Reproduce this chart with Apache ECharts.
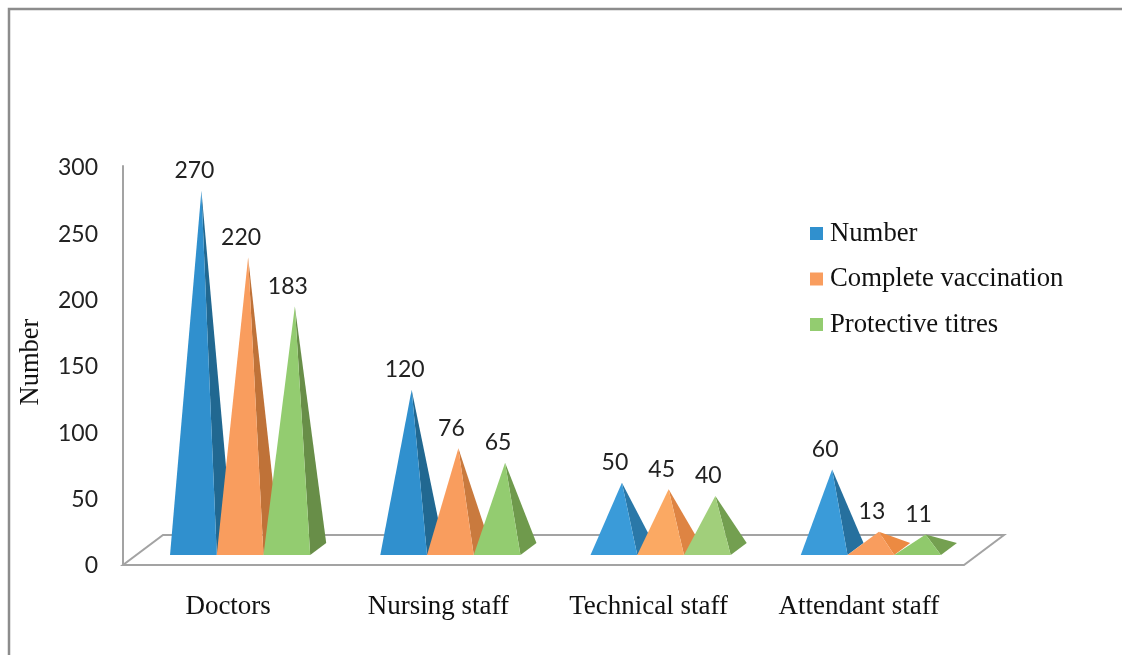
<!DOCTYPE html>
<html lang="en">
<head>
    <meta charset="UTF-8">
    <title>Number, complete vaccination and protective titres</title>
    <script src="https://cdn.jsdelivr.net/npm/echarts@6/dist/echarts.min.js"></script>
    <style>
        html, body { margin: 0; padding: 0; background: #fff; }
        #chart { width: 1122px; height: 655px; }
    </style>
</head>
<body>
    <div id="chart"></div>
    <script>
        var categories = ['Doctors', 'Nursing staff', 'Technical staff', 'Attendant staff'];
        var number = [270, 120, 50, 60];
        var completeVaccination = [220, 76, 45, 13];
        var protectiveTitres = [183, 65, 40, 11];

        var serifFont = '"Liberation Serif", serif';
        var labelFont = 'Lato, sans-serif';

        // the shaded faces get a bit lighter on the smaller groups, per category
        var blueFront = ['#3090CE', '#3090CE', '#3A9BD9', '#3A9BD9'];
        var blueSide = ['#216891', '#216891', '#2A78A8', '#26709E'];
        var orangeFront = ['#F99D5E', '#F99D5E', '#FBA963', '#F99D5E'];
        var orangeSide = ['#BF7238', '#C97A3E', '#DE8443', '#EC8A42'];
        var greenFront = ['#93CC70', '#93CC70', '#A1CF7B', '#90C96C'];
        var greenSide = ['#688E48', '#6F9A4C', '#739F50', '#74A050'];

        // 3d look of the old office chart: floor depth in pixels
        var depthX = 40, depthY = 30;
        var pyramidShare = 140 / 630;

        function pyramidSeries(name, values, front, side, idx) {
            return {
                name: name,
                type: 'custom',
                itemStyle: { color: front[0] },
                data: values.map(function (v, i) { return [i, v]; }),
                z: 3 + idx,
                renderItem: function (params, api) {
                    var cat = api.value(0);
                    var band = api.size([1, 0])[0];
                    var w = band * pyramidShare;
                    var top = api.coord([cat, api.value(1)]);
                    var zero = api.coord([cat, 0]);
                    var left = zero[0] + 12 - 1.5 * w + idx * w;
                    var right = left + w;
                    var frontY = zero[1] - 9;
                    var backY = frontY - 12;
                    var apex = [(left + right) / 2 + 8, top[1] - 15];
                    return {
                        type: 'group',
                        children: [
                            {
                                type: 'polygon',
                                shape: { points: [[right, frontY], [right + 16, backY], apex] },
                                style: { fill: side[cat] }
                            },
                            {
                                type: 'polygon',
                                shape: { points: [[left, frontY], [right, frontY], apex] },
                                style: { fill: front[cat] }
                            },
                            {
                                type: 'text',
                                z2: 10,
                                style: {
                                    text: String(api.value(1)),
                                    x: apex[0] - 7,
                                    y: apex[1] - 20,
                                    align: 'center',
                                    verticalAlign: 'middle',
                                    fill: '#222',
                                    font: '23px ' + labelFont
                                }
                            }
                        ]
                    };
                }
            };
        }

        var floorSeries = {
            type: 'custom',
            silent: true,
            z: 1,
            data: [[0, 0]],
            renderItem: function (params, api) {
                var sys = params.coordSys;
                var y = sys.y + sys.height + 1;
                var x0 = sys.x, x1 = sys.x + sys.width;
                return {
                    type: 'polygon',
                    shape: { points: [[x0, y], [x1, y], [x1 + depthX, y - depthY], [x0 + depthX, y - depthY]] },
                    style: { fill: '#fff', stroke: '#a3a3a3', lineWidth: 2 }
                };
            }
        };

        var chart = echarts.init(document.getElementById('chart'));

        var option = {
            animation: false,
            backgroundColor: '#fff',
            grid: { left: 123, right: 158, top: 166, bottom: 91, outerBoundsMode: 'none' },
            legend: {
                orient: 'vertical',
                left: 805,
                top: 215,
                itemWidth: 13,
                itemHeight: 13,
                itemGap: 18.5,
                icon: 'rect',
                data: ['Number', 'Complete vaccination', 'Protective titres'],
                textStyle: { fontFamily: serifFont, fontSize: 26.7, color: '#111', padding: [0, 0, 0, 2] }
            },
            xAxis: {
                type: 'category',
                data: categories,
                axisTick: { show: false },
                axisLine: { lineStyle: { color: '#a3a3a3', width: 2 } },
                axisLabel: { fontFamily: serifFont, fontSize: 27, color: '#111', margin: 29 }
            },
            yAxis: {
                type: 'value',
                min: 0,
                max: 300,
                interval: 50,
                name: 'Number',
                nameLocation: 'middle',
                nameGap: 78,
                nameTextStyle: { fontFamily: serifFont, fontSize: 26.5, color: '#111', padding: [0, 0, 0, 6] },
                splitLine: { show: false },
                axisTick: { show: false },
                axisLine: { show: true, lineStyle: { color: '#a3a3a3', width: 2 } },
                axisLabel: {
                    margin: 25,
                    formatter: '{t|{value}}',
                    rich: {
                        t: { fontFamily: labelFont, fontSize: 23, color: '#222', padding: [4, 0, 0, 0] }
                    }
                }
            },
            graphic: [
                {
                    type: 'polyline',
                    silent: true,
                    shape: { points: [[9, 655], [9, 9], [1122, 9]] },
                    style: { fill: 'none', stroke: '#8c8c8c', lineWidth: 2.5 }
                }
            ],
            series: [
                floorSeries,
                pyramidSeries('Number', number, blueFront, blueSide, 0),
                pyramidSeries('Complete vaccination', completeVaccination, orangeFront, orangeSide, 1),
                pyramidSeries('Protective titres', protectiveTitres, greenFront, greenSide, 2)
            ]
        };

        chart.setOption(option);
    </script>
</body>
</html>
